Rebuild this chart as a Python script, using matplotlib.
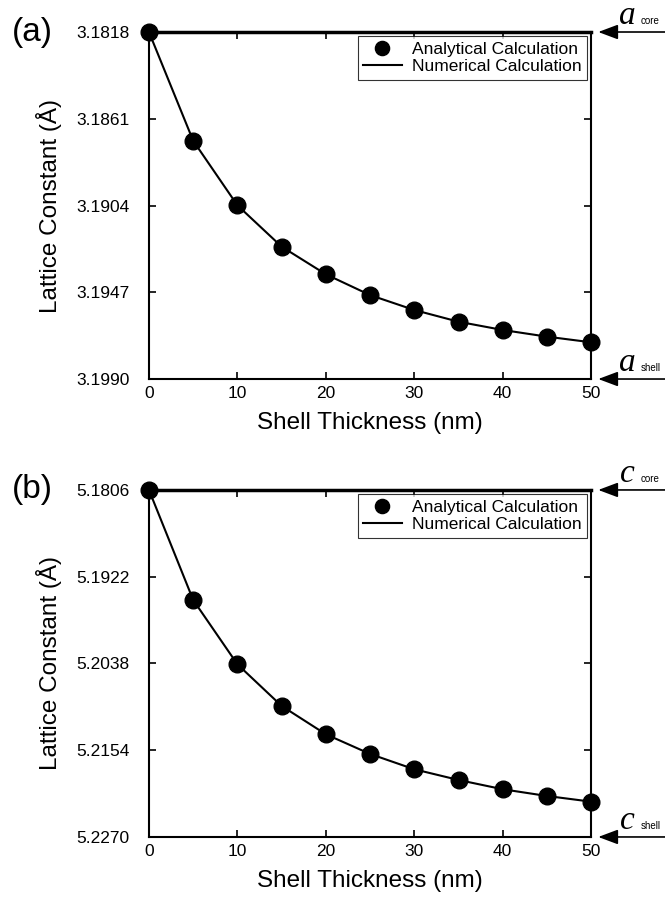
import matplotlib
matplotlib.use("Agg")
import matplotlib.pyplot as plt

plt.rcParams['font.family'] = ['Liberation Sans', 'DejaVu Sans']

# shell thickness (nm)
thickness = [0, 5, 10, 15, 20, 25, 30, 35, 40, 45, 50]

# lattice constant a (Angstrom)
a_analytical = [3.1818, 3.18719, 3.19039, 3.19244, 3.19381, 3.19484,
                3.19558, 3.19616, 3.19657, 3.19690, 3.19718]
a_numerical = a_analytical
a_ticks = [3.1818, 3.1861, 3.1904, 3.1947, 3.1990]

# lattice constant c (Angstrom)
c_analytical = [5.1806, 5.19531, 5.20391, 5.20948, 5.21327, 5.21590,
                5.21795, 5.21938, 5.22062, 5.22152, 5.22228]
c_numerical = c_analytical
c_ticks = [5.1806, 5.1922, 5.2038, 5.2154, 5.2270]

x_ticks = [0, 10, 20, 30, 40, 50]

fig = plt.figure(figsize=(6.65, 8.99), dpi=100)
ax_a = fig.add_axes([0.224, 0.5784, 0.665, 0.386])
ax_b = fig.add_axes([0.224, 0.0690, 0.665, 0.386])


def draw_panel(ax, ana, num, yticks, tag, sym):
    ax.plot(thickness, num, color='black', lw=1.5, label='Numerical Calculation', zorder=3)
    ax.plot(thickness, ana, 'o', color='black', ms=12, label='Analytical Calculation',
            clip_on=False, zorder=4)
    ax.set_xlim(0, 50)
    ax.set_ylim(yticks[-1], yticks[0])
    ax.set_xticks(x_ticks)
    ax.set_yticks(yticks)
    ax.set_yticklabels(['%.4f' % v for v in yticks])
    ax.tick_params(direction='in', top=True, right=True, length=5, width=1.2,
                   labelsize=12.5)
    ax.tick_params(axis='x', pad=5)
    ax.tick_params(axis='y', pad=14)
    for sp in ax.spines.values():
        sp.set_linewidth(1.5)
    ax.spines['top'].set_linewidth(2.5)
    ax.set_xlabel('Shell Thickness (nm)', fontsize=17.5, labelpad=8)
    ax.set_ylabel('Lattice Constant (Å)', fontsize=17.5, labelpad=10)
    h, l = ax.get_legend_handles_labels()
    leg = ax.legend(h[::-1], l[::-1], loc='upper right', fontsize=12.5, frameon=True,
                    fancybox=False, edgecolor='black', borderaxespad=0.25,
                    handlelength=2.2, handletextpad=0.6, borderpad=0.3,
                    labelspacing=0.15, markerscale=0.85)
    leg.get_frame().set_linewidth(0.8)
    ax.text(-0.31, 1.0, tag, transform=ax.transAxes, fontsize=24,
            ha='left', va='center')
    for yf, sub in [(1.0, 'core'), (0.0, 'shell')]:
        ax.annotate('', xy=(1.016, yf), xytext=(1.17, yf), xycoords='axes fraction',
                    arrowprops=dict(arrowstyle='-|>,head_length=1.2,head_width=0.45',
                                    mutation_scale=10, color='black', lw=1.2,
                                    shrinkA=0, shrinkB=0))
        ax.text(1.064, yf + 0.022, sym, transform=ax.transAxes, fontsize=24,
                family='Liberation Serif', style='italic', ha='left', va='baseline')
        ax.text(1.111, yf + 0.022, sub, transform=ax.transAxes, fontsize=7,
                ha='left', va='baseline')


draw_panel(ax_a, a_analytical, a_numerical, a_ticks, '(a)', 'a')
draw_panel(ax_b, c_analytical, c_numerical, c_ticks, '(b)', 'c')

fig.savefig('out.png', dpi=100)
